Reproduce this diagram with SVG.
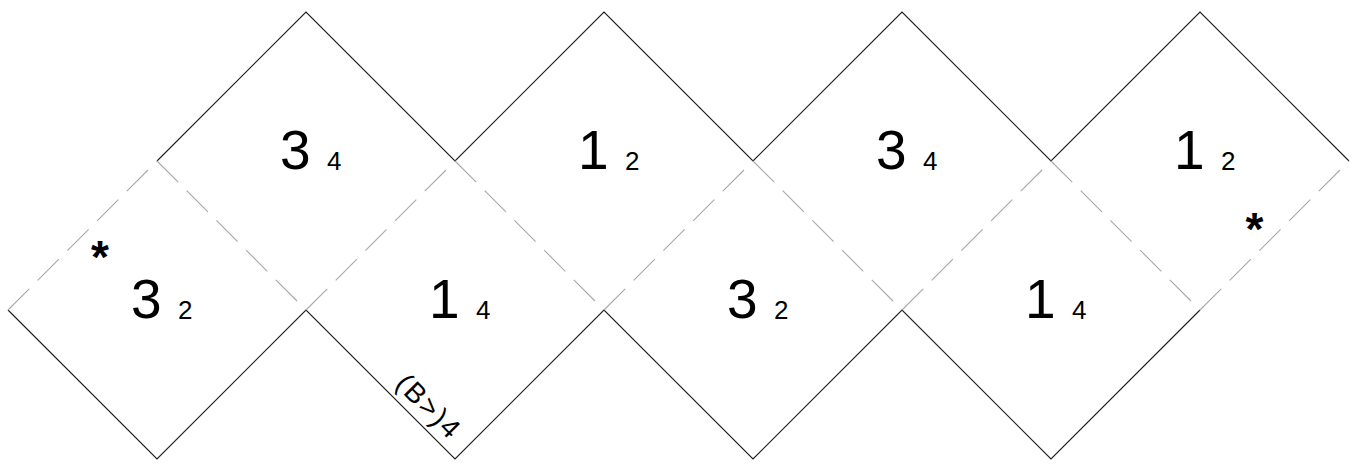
<svg xmlns="http://www.w3.org/2000/svg" width="1352" height="465" viewBox="0 0 1352 465">
<style>
.cut{fill:none;stroke:#1a1a1a;stroke-width:1.1}
.fold{fill:none;stroke:#a8a8a8;stroke-width:1.1;stroke-dasharray:30 12}
.big{font-family:"Liberation Sans",Arial,sans-serif;font-size:55px;fill:#000}
.small{font-family:"Liberation Sans",Arial,sans-serif;font-size:26px;fill:#000}
.star{font-family:"Liberation Sans",Arial,sans-serif;font-size:46px;font-weight:bold;fill:#000;text-anchor:middle}
.note{font-family:"Liberation Sans",Arial,sans-serif;font-size:28px;fill:#000;letter-spacing:2px}
</style>
<rect width="1352" height="465" fill="#fff"/>
<g id="connectors">
<polyline class="cut" points="157,161 306,12 455,161 604,12 753,161 902,12 1051,161 1200,12 1349,161"/>
<polyline class="cut" points="8,310 157,459 306,310 455,459 604,310 753,459 902,310 1051,459 1200,310"/>
<line class="fold" x1="8" y1="310" x2="157" y2="161"/>
<line class="fold" x1="306" y1="310" x2="455" y2="161"/>
<line class="fold" x1="604" y1="310" x2="753" y2="161"/>
<line class="fold" x1="902" y1="310" x2="1051" y2="161"/>
<line class="fold" x1="1200" y1="310" x2="1349" y2="161"/>
<line class="fold" x1="157" y1="161" x2="306" y2="310"/>
<line class="fold" x1="455" y1="161" x2="604" y2="310"/>
<line class="fold" x1="753" y1="161" x2="902" y2="310"/>
<line class="fold" x1="1051" y1="161" x2="1200" y2="310"/>
</g>
<g id="top1"><text class="big" x="280" y="168.5">3</text><text class="small" x="327" y="169.5">4</text></g>
<g id="top2"><text class="big" x="578" y="168.5">1</text><text class="small" x="625" y="169.5">2</text></g>
<g id="top3"><text class="big" x="876" y="168.5">3</text><text class="small" x="923" y="169.5">4</text></g>
<g id="top4"><text class="big" x="1174" y="168.5">1</text><text class="small" x="1221" y="169.5">2</text></g>
<g id="bottom1"><text class="big" x="131" y="318">3</text><text class="small" x="178" y="319">2</text><text class="star" x="100" y="273">*</text></g>
<g id="bottom2"><text class="big" x="429" y="318">1</text><text class="small" x="476" y="319">4</text><text class="note" transform="translate(394.2,385.3) rotate(45)">(B&gt;)4</text></g>
<g id="bottom3"><text class="big" x="727" y="318">3</text><text class="small" x="774" y="319">2</text></g>
<g id="bottom4"><text class="big" x="1025" y="318">1</text><text class="small" x="1072" y="319">4</text></g>
<g id="top4-mark"><text class="star" x="1254.5" y="245">*</text></g>
</svg>
